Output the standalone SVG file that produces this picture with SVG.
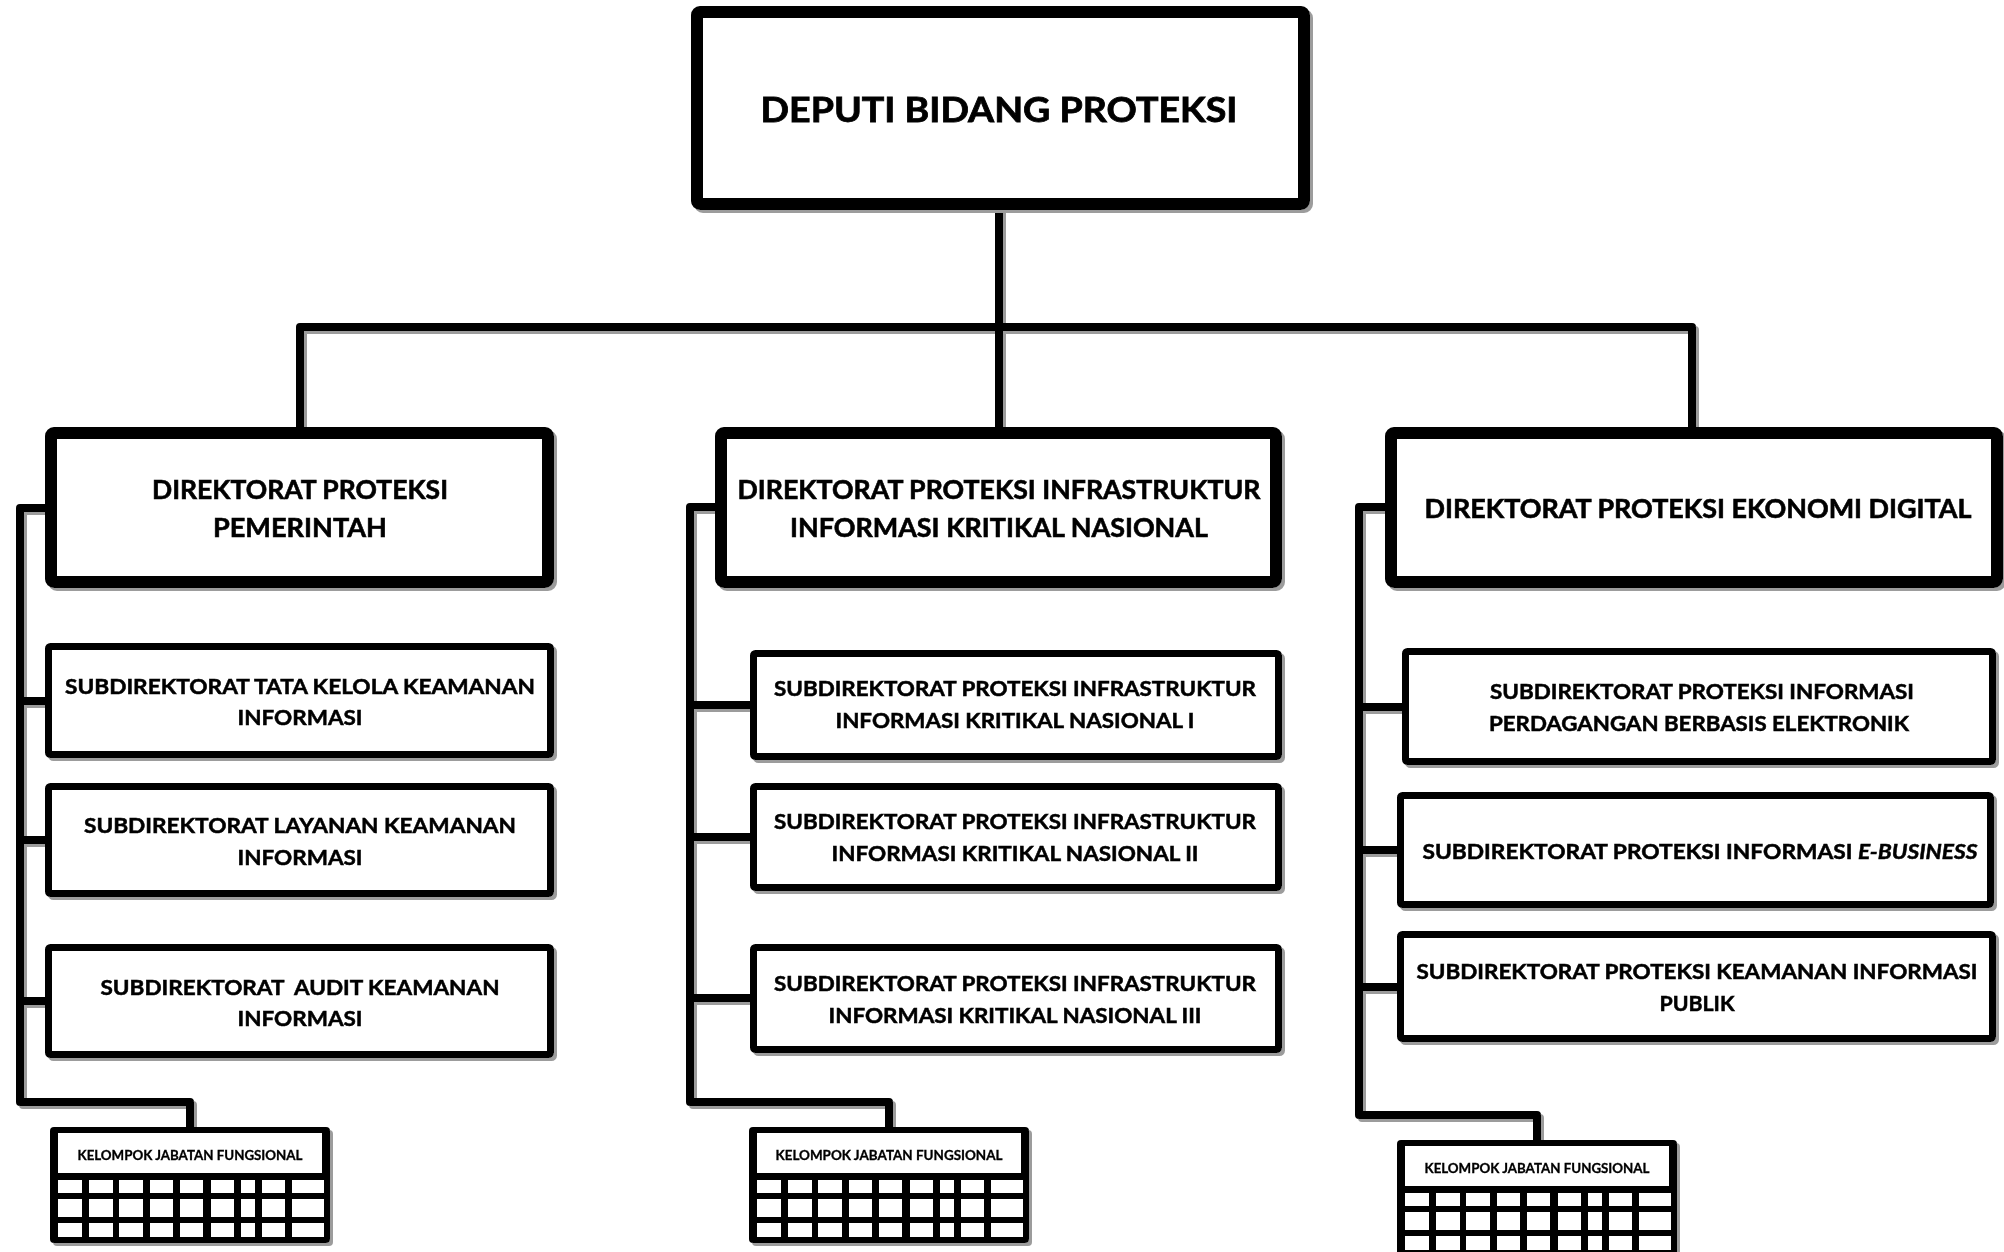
<svg xmlns="http://www.w3.org/2000/svg" xmlns:xlink="http://www.w3.org/1999/xlink" width="2004" height="1252" viewBox="0 0 2004 1252">
  <style>
    .box { fill: #ffffff; stroke: #000000; }
    .b12 { stroke-width: 12; }
    .b7 { stroke-width: 7; }
    .wire { fill: none; stroke: #000000; stroke-width: 8; stroke-linejoin: round; }
    .t { font-family: Lato, "Open Sans", "Liberation Sans", sans-serif; font-weight: 700; fill: #000000; stroke: #000000; stroke-width: 0.5; text-anchor: middle; }
    .t-top { font-size: 35px; stroke-width: 0.8; }
    .t-dir { font-size: 27px; stroke-width: 0.6; }
    .t-sub { font-size: 21px; }
    .t-kjf { font-size: 13px; stroke-width: 0.3; }
    .cell { fill: #ffffff; }
  </style>
  <defs>
    <filter id="shade" x="-5%" y="-5%" width="110%" height="115%">
      <feDropShadow dx="3" dy="3" stdDeviation="0.4" flood-color="#9c9c9c" flood-opacity="1"/>
    </filter>
    <!-- functional group block: header strip over a 3 x 9 grid -->
    <g id="kjf-block">
      <rect x="0" y="0" width="280" height="116" rx="4" fill="#000000"/>
      <rect class="cell" x="8" y="6" width="264" height="40"/>
      <g class="cell">
        <rect x="8" y="53" width="24" height="13"/><rect x="39" y="53" width="24" height="13"/><rect x="69" y="53" width="24" height="13"/>
        <rect x="100" y="53" width="23" height="13"/><rect x="130" y="53" width="23" height="13"/><rect x="161" y="53" width="23" height="13"/>
        <rect x="191" y="53" width="14" height="13"/><rect x="212" y="53" width="23" height="13"/><rect x="242" y="53" width="32" height="13"/>
        <rect x="8" y="72" width="24" height="18"/><rect x="39" y="72" width="24" height="18"/><rect x="69" y="72" width="24" height="18"/>
        <rect x="100" y="72" width="23" height="18"/><rect x="130" y="72" width="23" height="18"/><rect x="161" y="72" width="23" height="18"/>
        <rect x="191" y="72" width="14" height="18"/><rect x="212" y="72" width="23" height="18"/><rect x="242" y="72" width="32" height="18"/>
        <rect x="8" y="96" width="24" height="14"/><rect x="39" y="96" width="24" height="14"/><rect x="69" y="96" width="24" height="14"/>
        <rect x="100" y="96" width="23" height="14"/><rect x="130" y="96" width="23" height="14"/><rect x="161" y="96" width="23" height="14"/>
        <rect x="191" y="96" width="14" height="14"/><rect x="212" y="96" width="23" height="14"/><rect x="242" y="96" width="32" height="14"/>
      </g>
    </g>
  </defs>

  <rect width="2004" height="1252" fill="#ffffff"/>

  <!-- connectors -->
  <g id="connectors" filter="url(#shade)">
    <path class="wire" d="M999,210 V427"/>
    <path class="wire" d="M300,427 V327 H1692 V427"/>
    <!-- left branch -->
    <path class="wire" d="M45,508 H20 V1102 H190 V1127"/>
    <path class="wire" d="M20,701 H45 M20,840 H45 M20,1001 H45"/>
    <!-- middle branch -->
    <path class="wire" d="M715,507 H690 V1102 H889 V1127"/>
    <path class="wire" d="M690,705 H750 M690,837 H750 M690,998 H750"/>
    <!-- right branch -->
    <path class="wire" d="M1385,507 H1359 V1115 H1537 V1140"/>
    <path class="wire" d="M1359,707 H1402 M1359,850 H1397 M1359,987 H1397"/>
  </g>

  <!-- top level -->
  <g id="deputi" filter="url(#shade)">
    <rect class="box b12" x="697" y="12" width="607" height="192" rx="3"/>
    <text class="t t-top" x="999" y="122" textLength="477" lengthAdjust="spacingAndGlyphs">DEPUTI BIDANG PROTEKSI</text>
  </g>

  <!-- directorates -->
  <g id="dir-pemerintah" filter="url(#shade)">
    <rect class="box b12" x="51" y="433" width="497" height="149" rx="3"/>
    <text class="t t-dir" x="300" y="499" textLength="296" lengthAdjust="spacingAndGlyphs">DIREKTORAT PROTEKSI</text>
    <text class="t t-dir" x="300" y="537" textLength="174" lengthAdjust="spacingAndGlyphs">PEMERINTAH</text>
  </g>
  <g id="dir-iikn" filter="url(#shade)">
    <rect class="box b12" x="721" y="433" width="555" height="149" rx="3"/>
    <text class="t t-dir" x="999" y="499" textLength="523" lengthAdjust="spacingAndGlyphs">DIREKTORAT PROTEKSI INFRASTRUKTUR</text>
    <text class="t t-dir" x="999" y="537" textLength="418" lengthAdjust="spacingAndGlyphs">INFORMASI KRITIKAL NASIONAL</text>
  </g>
  <g id="dir-ekonomi" filter="url(#shade)">
    <rect class="box b12" x="1391" y="433" width="606" height="149" rx="3"/>
    <text class="t t-dir" x="1698" y="518" textLength="547" lengthAdjust="spacingAndGlyphs">DIREKTORAT PROTEKSI EKONOMI DIGITAL</text>
  </g>

  <!-- sub-directorates: government -->
  <g id="sub-tata-kelola" filter="url(#shade)">
    <rect class="box b7" x="48.5" y="646.5" width="502" height="108" rx="2"/>
    <text class="t t-sub" x="300" y="694" textLength="470" lengthAdjust="spacingAndGlyphs">SUBDIREKTORAT TATA KELOLA KEAMANAN</text>
    <text class="t t-sub" x="300" y="725" textLength="125" lengthAdjust="spacingAndGlyphs">INFORMASI</text>
  </g>
  <g id="sub-layanan" filter="url(#shade)">
    <rect class="box b7" x="48.5" y="786.5" width="502" height="107" rx="2"/>
    <text class="t t-sub" x="300" y="833" textLength="432" lengthAdjust="spacingAndGlyphs">SUBDIREKTORAT LAYANAN KEAMANAN</text>
    <text class="t t-sub" x="300" y="865" textLength="125" lengthAdjust="spacingAndGlyphs">INFORMASI</text>
  </g>
  <g id="sub-audit" filter="url(#shade)">
    <rect class="box b7" x="48.5" y="947.5" width="502" height="107" rx="2"/>
    <text class="t t-sub" x="300" y="995" textLength="399" lengthAdjust="spacingAndGlyphs" xml:space="preserve">SUBDIREKTORAT  AUDIT KEAMANAN</text>
    <text class="t t-sub" x="300" y="1026" textLength="125" lengthAdjust="spacingAndGlyphs">INFORMASI</text>
  </g>

  <!-- sub-directorates: critical national information infrastructure -->
  <g id="sub-iikn-1" filter="url(#shade)">
    <rect class="box b7" x="753.5" y="653.5" width="525" height="103" rx="2"/>
    <text class="t t-sub" x="1015" y="696" textLength="482" lengthAdjust="spacingAndGlyphs">SUBDIREKTORAT PROTEKSI INFRASTRUKTUR</text>
    <text class="t t-sub" x="1015" y="728" textLength="359" lengthAdjust="spacingAndGlyphs">INFORMASI KRITIKAL NASIONAL I</text>
  </g>
  <g id="sub-iikn-2" filter="url(#shade)">
    <rect class="box b7" x="753.5" y="786.5" width="525" height="101" rx="2"/>
    <text class="t t-sub" x="1015" y="829" textLength="482" lengthAdjust="spacingAndGlyphs">SUBDIREKTORAT PROTEKSI INFRASTRUKTUR</text>
    <text class="t t-sub" x="1015" y="861" textLength="367" lengthAdjust="spacingAndGlyphs">INFORMASI KRITIKAL NASIONAL II</text>
  </g>
  <g id="sub-iikn-3" filter="url(#shade)">
    <rect class="box b7" x="753.5" y="947.5" width="525" height="102" rx="2"/>
    <text class="t t-sub" x="1015" y="991" textLength="482" lengthAdjust="spacingAndGlyphs">SUBDIREKTORAT PROTEKSI INFRASTRUKTUR</text>
    <text class="t t-sub" x="1015" y="1023" textLength="373" lengthAdjust="spacingAndGlyphs">INFORMASI KRITIKAL NASIONAL III</text>
  </g>

  <!-- sub-directorates: digital economy -->
  <g id="sub-perdagangan" filter="url(#shade)">
    <rect class="box b7" x="1405.5" y="651.5" width="587" height="110" rx="2"/>
    <text class="t t-sub" x="1702" y="699" textLength="424" lengthAdjust="spacingAndGlyphs">SUBDIREKTORAT PROTEKSI INFORMASI</text>
    <text class="t t-sub" x="1699" y="731" textLength="420" lengthAdjust="spacingAndGlyphs">PERDAGANGAN BERBASIS ELEKTRONIK</text>
  </g>
  <g id="sub-ebusiness" filter="url(#shade)">
    <rect class="box b7" x="1400.5" y="795.5" width="590" height="109" rx="2"/>
    <text class="t t-sub" x="1700" y="859" textLength="555" lengthAdjust="spacingAndGlyphs">SUBDIREKTORAT PROTEKSI INFORMASI <tspan font-style="italic">E-BUSINESS</tspan></text>
  </g>
  <g id="sub-publik" filter="url(#shade)">
    <rect class="box b7" x="1400.5" y="934.5" width="592" height="104" rx="2"/>
    <text class="t t-sub" x="1697" y="979" textLength="561" lengthAdjust="spacingAndGlyphs">SUBDIREKTORAT PROTEKSI KEAMANAN INFORMASI</text>
    <text class="t t-sub" x="1697" y="1011" textLength="75" lengthAdjust="spacingAndGlyphs">PUBLIK</text>
  </g>

  <!-- functional groups -->
  <g id="kjf-pemerintah" filter="url(#shade)">
    <use xlink:href="#kjf-block" href="#kjf-block" x="50" y="1127"/>
    <text class="t t-kjf" x="190" y="1160" textLength="225" lengthAdjust="spacingAndGlyphs">KELOMPOK JABATAN FUNGSIONAL</text>
  </g>
  <g id="kjf-iikn" filter="url(#shade)">
    <use xlink:href="#kjf-block" href="#kjf-block" x="749" y="1127"/>
    <text class="t t-kjf" x="889" y="1160" textLength="227" lengthAdjust="spacingAndGlyphs">KELOMPOK JABATAN FUNGSIONAL</text>
  </g>
  <g id="kjf-ekonomi" filter="url(#shade)">
    <use xlink:href="#kjf-block" href="#kjf-block" x="1397" y="1140"/>
    <text class="t t-kjf" x="1537" y="1173" textLength="225" lengthAdjust="spacingAndGlyphs">KELOMPOK JABATAN FUNGSIONAL</text>
  </g>
</svg>
